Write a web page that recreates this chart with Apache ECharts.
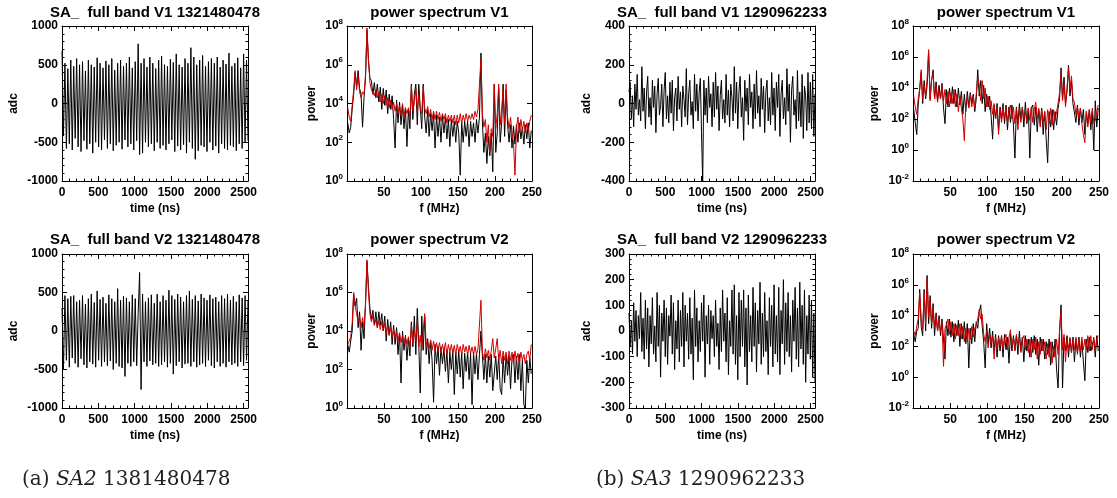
<!DOCTYPE html>
<html><head><meta charset="utf-8">
<script src="https://cdn.jsdelivr.net/npm/echarts@6/dist/echarts.min.js"></script>
<style>html,body{margin:0;padding:0;background:#fff}#c{width:1117px;height:498px}</style>
</head><body><div id="c"></div>
<script>
// ---------------- DATA ----------------
// Time series (adc counts), samples evenly spread over 0..2560 ns
const TIME_SPAN = 2560;
const tsA_V1 = [
 680,-420,520,-580,450,-520,560,-600,480,-450,580,-560,500,-620,540,-480,
 420,-590,560,-520,500,-640,470,-500,590,-560,520,-600,460,-470,550,-580,
 500,-520,580,-610,430,-540,520,-500,560,-590,480,-470,520,-560,600,-520,
 460,-600,540,-480,770,-660,520,-640,580,-500,470,-560,600,-520,520,-610,
 450,-500,560,-580,610,-540,500,-600,480,-520,570,-470,530,-620,640,-550,
 500,-600,470,-530,580,-640,520,-500,720,-580,600,-720,500,-610,560,-540,
 620,-560,480,-620,540,-500,580,-600,520,-550,600,-640,470,-520,560,-580,
 510,-600,650,-540,480,-560,520,-610,590,-520,460,-580,640,-500,560,-480];
const tsA_V2 = [
 300,-500,460,-380,420,-470,450,-350,460,-420,380,-470,400,-360,460,-440,
 350,-480,420,-400,480,-430,370,-470,520,-380,410,-460,440,-400,360,-450,
 470,-390,420,-500,380,-420,550,-460,400,-480,450,-590,430,-420,380,-460,
 470,-400,420,-450,230,760,-760,480,-400,380,-460,430,-390,470,-440,360,
 -420,480,-460,380,-440,460,-400,400,-470,530,-420,460,-560,410,-450,480,
 -400,440,-480,380,-430,460,-420,520,-460,410,-400,460,-470,390,-440,480,
 -420,430,-460,400,-380,470,-450,420,-480,440,-400,380,-460,460,-420,420,
 -470,480,-400,400,-440,450,-420,380,-460,470,-400,430,-450,460,-380,400];
const tsB_V1 = [
 60,110,-80,40,-120,100,-30,150,-60,20,-90,190,-40,80,-130,60,
 140,-70,30,-110,120,-20,90,-150,50,130,-60,-10,100,-120,70,160,
 -80,40,-100,110,-50,120,-140,30,80,-90,140,-30,60,-120,90,20,
 -70,180,-110,50,120,-60,10,-130,150,-40,100,-90,60,130,-150,-410,
 120,-60,80,-100,140,-20,50,-120,110,-70,160,-30,90,-140,40,120,
 -80,20,-100,150,-60,70,-120,100,30,-90,190,-50,110,-130,60,140,
 -70,30,-190,120,-40,80,-110,150,-20,60,-130,100,-80,170,-50,40,
 -120,130,-30,90,-150,60,120,-90,30,-110,160,-60,80,-140,110,-20,
 150,-170,50,120,-80,30,-110,180,-40,100,-200,70,140,-60,20,-130,
 170,-90,60,-120,150,-180,90,40,-140,160,-100,110,-130,150,-170,50];
const tsB_V2 = [
 70,-60,40,-90,110,-40,80,-100,60,-30,150,-80,50,-110,120,-70,
 90,-140,60,-50,130,-90,20,-120,150,-60,100,-180,70,-40,120,-100,
 90,-130,60,-20,140,-90,110,-150,40,-70,120,-120,80,-60,150,-140,
 100,-40,70,-110,130,-90,50,-190,160,-60,90,-120,40,-80,110,-40,
 140,-180,60,-50,100,-130,80,-30,60,-100,120,-60,30,-150,90,-80,
 160,-40,70,-120,130,-170,40,-60,160,-90,180,-130,60,-190,150,-100,
 120,-60,160,-140,90,-210,140,-80,60,-120,170,-60,110,-160,80,-50,
 190,-130,70,-100,150,-80,40,-170,130,-60,100,-140,180,-90,60,-120,
 170,-170,80,-50,200,-130,110,-80,150,-100,60,-160,120,-40,170,-110,
 90,-140,190,-70,100,-130,160,-200,60,-90,140,-110,120,-180,70,-200];

// Power spectra: frequency bins f = 1,3,5,...,249 MHz (each row spans 20 MHz)
const FREQ_START = 1, FREQ_STEP = 2;
const psA_V1_black = [
 1e3,3e2,6e2,5e3,3e4,4e5,8e4,5e5,6e4,3e4,
 6e2,2e4,2e5,6e7,1.5e6,2e5,1.5e5,3e4,1.2e5,2e4,
 1e5,1.2e4,7e4,5e3,6e4,8e3,5e4,3e3,3e4,5e3,
 2.5e4,1.5e3,5e1,1.5e4,1e3,1.2e4,8e2,8e3,5e2,6e3,
 6e1,5e3,5e2,1e5,1.5e3,3e4,1e5,8e2,1e5,6e3,
 5e2,1e5,2e3,3e2,5e3,2e2,3e3,4e2,3e3,5e1,
 2.5e3,2e2,2e3,1e2,2.5e3,3e2,2e3,1.5e2,1.5e3,6e1,
 1.5e3,2e2,1.2e3,1e2,1.2e3,3e2,2e0,1e3,1e2,1.2e3,
 2e2,1.2e3,6e1,1.2e3,2e2,1e3,1e2,1.5e3,3e2,2e3,
 4e6,1e3,3e1,3e2,8e0,2e2,2e1,3e2,3e0,1e5,
 3e1,3e2,6e4,1e2,1e3,1e5,2e2,5e4,8e2,1e2,
 8e2,5e1,7e2,8e1,8e2,1e2,1e3,1.5e2,6e2,8e1,
 8e2,1.5e2,1e3,5e1,4e2];
const psA_V1_red = [
 6e3,2e3,1.2e3,8e3,5e4,5e5,5e4,3e5,4e4,2e4,
 4e4,3e4,3e5,8e7,2e6,1.2e5,5e4,6e4,2.5e4,5e4,
 2e4,4e4,1.2e4,3e4,1e4,2.5e4,8e3,2e4,6e3,1.5e4,
 5e3,1.2e4,4e3,1e4,3e3,8e3,2.5e3,1e4,2e3,6e3,
 3e3,6e3,2e3,8e4,4e3,1.2e4,6e4,4e3,3e4,5e3,
 3e3,8e4,6e3,3e3,7e3,2e3,5e3,1.5e3,4e3,1.5e3,
 4e3,1.5e3,3.5e3,1.2e3,3e3,1.5e3,3e3,1e3,2.5e3,1.2e3,
 2.5e3,1e3,2.5e3,8e2,2.5e3,1e3,3e3,9e2,2.5e3,1.2e3,
 3e3,1.2e3,2.5e3,1.5e3,3e3,1.5e3,4e3,2e3,5e3,6e3,
 2e6,3e3,6e2,1.5e3,1e2,8e2,3e1,5e2,2e2,1e5,
 5e2,3e3,1e5,8e2,5e3,5e4,1e3,1e5,2e3,5e2,
 2e3,3e2,1e2,2e0,5e2,2e3,3e2,1.5e3,4e2,1.2e3,
 3e2,1e3,4e2,1.2e3,2.5e3];
const psA_V2_black = [
 2e3,8e2,3e3,1e4,8e5,2e5,5e5,1.5e4,1e5,1e3,
 3e4,4e3,3e5,4e7,2e6,1.5e5,4e4,1.2e5,2e4,1e5,
 1.5e4,1e5,2e4,8e4,1e4,6e4,3e3,4e4,6e3,3e4,
 2e3,2e4,2e3,1.5e4,6e2,8e3,2e1,1e4,1e3,6e3,
 3e2,4e3,5e2,3e4,1.5e3,6e4,6e2,1.5e5,2e3,6e0,
 6e4,1e3,6e4,6e2,4e3,2e2,3e3,3e2,2e0,2e3,
 2e2,1.5e3,5e1,1.5e3,2e2,1.2e3,8e1,1e3,2e1,8e2,
 1e2,1e3,5e0,8e2,6e1,1e3,4e1,8e2,1e1,7e2,
 8e1,8e2,3e1,7e2,1.5e0,8e2,6e1,7e2,3e1,6e2,
 1e4,5e2,3e1,6e2,2e1,5e2,4e1,6e2,8e0,1e1,
 5e2,3e1,6e2,1e1,5e0,5e2,2e1,6e2,5e1,5e2,
 1e1,4e2,6e2,2e1,5e2,3e1,6e2,8e0,3e2,1.5e0,
 1e0,3e2,2e1,4e2,6e1];
const psA_V2_red = [
 2e3,3e3,5e3,2.5e4,1e6,2e5,8e4,3e4,6e4,1.5e4,
 5e4,1.5e4,2e5,5e7,1e6,8e4,3e4,6e4,2e4,4e4,
 1.5e4,3.5e4,1.2e4,3e4,1e4,2.5e4,8e3,2e4,6e3,1.5e4,
 5e3,1.2e4,4e3,1e4,3e3,8e3,2.5e3,6e3,2e3,5e3,
 2e3,5e3,1.5e3,2e4,2.5e3,1e4,3e3,3e4,1.5e3,6e3,
 1e3,1e4,8e4,2e3,3e3,1.2e3,3.5e3,1e3,3e3,8e2,
 2.5e3,1e3,2.5e3,7e2,2e3,9e2,2.5e3,6e2,2e3,8e2,
 2e3,7e2,1.8e3,6e2,2e3,8e2,1.6e3,6e2,2e3,8e2,
 1.6e3,6e2,1.8e3,7e2,1.5e3,6e2,1.6e3,6e2,1.2e3,1.5e3,
 4e5,8e2,3e2,1.2e3,4e2,1e3,3e2,1e3,4e3,4e2,
 1.2e3,4e3,3e2,1e3,2e2,9e2,3e2,8e2,2e2,9e2,
 3e2,8e2,2e2,9e2,3e2,7e2,2e2,8e2,3e2,6e2,
 2e2,6e2,9e2,3e2,2e3];
const psB_V1_black = [
 4e2,6e1,1e1,8e2,1e3,1e5,1e3,3e4,2e3,1.5e4,
 2e6,2e3,3e4,1.5e5,2e3,2.5e4,1.5e3,1.5e4,2e3,2e4,
 5e2,5e1,8e3,6e2,1e4,1e3,1.2e4,1e3,8e3,6e2,
 1e4,8e2,6e3,2e2,4e3,3e2,6e3,6e2,5e3,1e3,
 4e3,3e2,2e3,1.5e5,3e3,3e4,1e3,1.5e4,3e2,4e3,
 6e2,3e3,1.5e2,5e0,8e2,1e2,1e3,2e1,6e2,1e2,
 1e3,5e1,8e2,2e1,6e2,6e1,8e2,4e1,3e-1,6e2,
 5e1,1e3,1e2,6e2,3e1,1.2e3,5e1,5e2,3e-1,5e2,
 8e2,4e1,6e2,1.5e1,4e2,5e1,5e2,1e1,3e2,5e0,
 1.5e-1,3e2,3e1,4e2,2e1,3e2,4e1,5e2,2e3,2e5,
 2e3,5e4,1e3,6e3,3e5,3e3,3e4,1e3,8e2,6e1,
 8e2,4e1,5e2,6e1,4e2,1e1,3e2,5e1,4e2,2e1,
 3e2,1e0,1.5e3,3e1,5e2];
const psB_V1_red = [
 3e3,6e2,2e2,2e3,8e3,1.5e5,2e3,1.5e4,3e3,4e4,
 3e6,1.5e3,4e4,8e4,2e3,1.5e4,1.2e3,8e3,2e3,1.5e4,
 1.5e3,8e3,1e3,6e3,6e2,5e3,1e3,8e3,6e2,4e3,
 3e2,3e3,5e2,1e2,4e0,1e3,2.5e3,5e2,4e3,6e2,
 3e3,5e2,4e3,5e4,1.5e4,1.5e3,3e4,2e3,1e4,6e2,
 3e3,4e2,1.5e3,2e2,1e3,1e2,6e2,1e1,4e2,6e1,
 6e2,1e2,5e2,6e1,4e2,8e2,1e2,6e2,5e1,5e2,
 2e1,4e2,6e1,6e2,1e2,3e2,6e1,5e2,8e1,6e2,
 6e1,4e2,1.2e3,1e2,5e2,3e1,4e2,6e1,3e2,2e1,
 4e2,5e1,5e2,4e1,4e2,8e1,3e2,1e3,5e3,1e5,
 1.5e3,2e4,6e2,1e4,2e5,8e3,6e4,2e3,1.2e3,2e2,
 6e2,1e2,5e2,5e1,1e1,3e0,3e2,3e1,4e2,6e1,
 5e2,5e1,8e1,3e2,8e2];
const psB_V2_black = [
 6e2,2e2,1e3,1.5e3,5e5,2e3,5e2,5e5,1e3,4e6,
 3e3,2e5,1.5e3,6e4,5e2,1.5e4,1e3,1e4,5e2,6e3,
 3e2,1.5e1,4e3,5e2,6e3,4e2,4e3,2e2,3e3,5e2,
 5e3,1e2,3e3,3e2,4e3,1.5e2,3e3,4e0,1.5e3,1.5e2,
 3e3,2e2,4e3,1.5e3,1.5e4,5e4,2e3,2e2,4e0,3e3,
 1.5e2,1.5e3,8e1,1e3,5e1,6e2,2e1,5e2,5e1,5e2,
 2e1,6e2,6e1,4e2,8e0,6e2,5e1,5e2,6e1,5e2,
 3e1,1e3,5e1,4e2,1e1,5e2,5e1,3e2,2e1,4e2,
 4e1,5e2,3e1,3e2,6e0,4e2,5e1,3e2,1.5e1,2e2,
 3e1,3e2,6e0,2e2,2e1,3e2,3e0,2e-1,1e3,5e4,
 2e-1,4e2,5e1,5e2,2e1,3e2,4e1,4e2,1e1,3e2,
 4e1,4e2,2e1,2e2,1e1,6e-1,3e2,4e1,4e2,5e1,
 4e1,3e2,2e1,5e2,5e1];
const psB_V2_red = [
 1e3,5e2,2e3,6e3,3e5,6e3,1.5e3,3e5,3e3,3e6,
 8e3,1e5,3e3,3e4,2e3,1e4,1e3,6e3,8e2,4e3,
 5e0,1.5e3,2.5e3,6e3,6e2,4e3,5e2,3e3,3e2,2.5e3,
 5e2,3e3,3e2,2e3,2e2,1.5e3,2e2,1.5e3,3e2,2e3,
 4e2,1.5e3,2.5e3,6e3,2.5e4,6e3,1.2e4,6e2,2e2,1e3,
 8e1,6e2,1.5e2,5e2,1.5e1,4e2,6e1,4e2,1e2,5e2,
 6e1,3e2,6e2,6e1,4e2,1.2e3,1e2,4e2,5e1,6e2,
 1e2,4e2,4e1,3e2,5e2,6e1,3e2,4e1,3e2,2e1,
 3e2,6e1,4e2,1.5e1,2e2,3e1,3e2,5e1,2e2,1.5e1,
 1.5e2,2e1,2e2,8e0,1e2,2e1,3e2,3e1,1e3,2e4,
 6e1,6e2,1e1,3e2,6e1,4e2,4e1,3e2,6e1,4e2,
 3e1,3e2,5e1,4e2,6e1,3e2,6e1,5e2,5e1,5e2,
 6e1,4e2,5e1,3e2,5e2];

// Text labels
const titles = [
 'SA_  full band V1 1321480478', 'power spectrum V1', 'SA_  full band V1 1290962233', 'power spectrum V1',
 'SA_  full band V2 1321480478', 'power spectrum V2', 'SA_  full band V2 1290962233', 'power spectrum V2'];
const captions = ['(a) {i|SA2} 1381480478', '(b) {i|SA3} 1290962233'];

// ---------------- LAYOUT / BUILD ----------------
const FONT = "'Liberation Sans', Arial, Helvetica, sans-serif";
const grids = [
 {left:62, top:26, width:186, height:155},
 {left:347, top:26, width:185, height:155},
 {left:629, top:26, width:186, height:155},
 {left:913, top:26, width:186, height:155},
 {left:62, top:254, width:186, height:154},
 {left:347, top:254, width:185, height:154},
 {left:629, top:254, width:186, height:154},
 {left:913, top:254, width:186, height:154}
];
const panels = [
 {kind:'time', ymin:-1000, ymax:1000, yint:500, gap:42, series:[[tsA_V1,'#000']]},
 {kind:'spec', ymin:1, ymax:1e8, gap:29, series:[[psA_V1_black,'#000'],[psA_V1_red,'#d00000']]},
 {kind:'time', ymin:-400, ymax:400, yint:200, gap:36, series:[[tsB_V1,'#000']]},
 {kind:'spec', ymin:1e-2, ymax:1e8, gap:32, series:[[psB_V1_black,'#000'],[psB_V1_red,'#d00000']]},
 {kind:'time', ymin:-1000, ymax:1000, yint:500, gap:42, series:[[tsA_V2,'#000']]},
 {kind:'spec', ymin:1, ymax:1e8, gap:29, series:[[psA_V2_black,'#000'],[psA_V2_red,'#d00000']]},
 {kind:'time', ymin:-300, ymax:300, yint:100, gap:36, series:[[tsB_V2,'#000']]},
 {kind:'spec', ymin:1e-2, ymax:1e8, gap:32, series:[[psB_V2_black,'#000'],[psB_V2_red,'#d00000']]}
];

const lblStyle = {fontSize:12, fontWeight:'bold', color:'#000', fontFamily:FONT};
const lineBlack = {show:true, onZero:false, lineStyle:{color:'#000', width:1}};
const tickIn = {show:true, inside:true, length:5, lineStyle:{color:'#000', width:1}};
const minorIn = (n)=>({show:true, splitNumber:n, length:2.5, lineStyle:{color:'#000', width:1}});
const plainNum = (v) => String(v);

const xAxes = [], yAxes = [], series = [], graphics = [];
panels.forEach((p, i) => {
  const isTime = p.kind === 'time';
  const xBase = isTime
    ? {min:0, max:TIME_SPAN, interval:500}
    : {min:0, max:250, interval:50};
  xAxes.push(Object.assign({type:'value', gridIndex:i, position:'bottom',
    name: isTime ? 'time (ns)' : 'f (MHz)', nameLocation:'middle', nameGap:22,
    nameTextStyle:lblStyle, axisLine:lineBlack, axisTick:tickIn, minorTick:minorIn(5),
    splitLine:{show:false}, minorSplitLine:{show:false},
    axisLabel:Object.assign({margin:6, formatter:plainNum, showMaxLabel:!isTime, showMinLabel:isTime}, lblStyle)}, xBase));
  xAxes.push(Object.assign({type:'value', gridIndex:i, position:'top',
    axisLine:lineBlack, axisTick:tickIn, minorTick:minorIn(5), splitLine:{show:false},
    axisLabel:{show:false}}, xBase));
  let yBase;
  if (isTime) {
    yBase = {type:'value', min:p.ymin, max:p.ymax, interval:p.yint};
  } else {
    yBase = {type:'log', logBase:10, min:p.ymin, max:p.ymax, interval:2};
  }
  yAxes.push(Object.assign({gridIndex:i, position:'left', name: isTime ? 'adc' : 'power',
    nameLocation:'middle', nameGap:p.gap, nameTextStyle:lblStyle,
    axisLine:lineBlack, axisTick:tickIn, minorTick: isTime ? minorIn(5) : {show:false},
    splitLine:{show:false},
    axisLabel: isTime ? Object.assign({margin:4, formatter:plainNum}, lblStyle) : {
      margin:4, color:'#000',
      formatter: (v) => '{b|10}{s|' + Math.round(Math.log10(v)) + '}',
      rich:{b:{fontSize:12, fontWeight:'bold', fontFamily:FONT, color:'#000'},
            s:{fontSize:8, fontWeight:'bold', fontFamily:FONT, color:'#000', padding:[0,0,9,0]}}
    }}, yBase));
  yAxes.push(Object.assign({gridIndex:i, position:'right', axisLine:lineBlack, axisTick:tickIn,
    minorTick: isTime ? minorIn(5) : {show:false}, splitLine:{show:false}, axisLabel:{show:false}}, yBase));
  p.series.forEach(([vals, color]) => {
    let data;
    if (isTime) {
      const dt = TIME_SPAN / (vals.length - 1);
      data = vals.map((v, k) => [k * dt, v]);
    } else {
      data = vals.map((v, k) => [FREQ_START + k * FREQ_STEP, v]);
    }
    series.push({type:'line', xAxisIndex:2*i, yAxisIndex:2*i, data, symbol:'none', showSymbol:false,
      lineStyle:{color, width:1}, animation:false, silent:true, clip:true});
  });
  const g = grids[i];
  graphics.push({type:'text', x:g.left + g.width/2, y: i < 4 ? 13 : 240,
    style:{text:titles[i], fontSize:15, fontWeight:'bold', fontFamily:FONT, fill:'#000',
      align:'center', verticalAlign:'middle'}});
});
const capX = [22, 596];
captions.forEach((c, k) => {
  graphics.push({type:'text', x:capX[k], y:480,
    style:{text:c, fontSize:20, fontFamily:"'DejaVu Serif', serif", fill:'#222',
      align:'left', verticalAlign:'middle',
      rich:{i:{fontSize:20, fontStyle:'italic', fontFamily:"'DejaVu Serif', serif", fill:'#222'}}}});
});

const chart = echarts.init(document.getElementById('c'), null, {renderer:'canvas'});
chart.setOption({
  animation:false, backgroundColor:'#fff',
  textStyle:{fontFamily:FONT},
  grid:grids, xAxis:xAxes, yAxis:yAxes, series, graphic:graphics
});
</script></body></html>
